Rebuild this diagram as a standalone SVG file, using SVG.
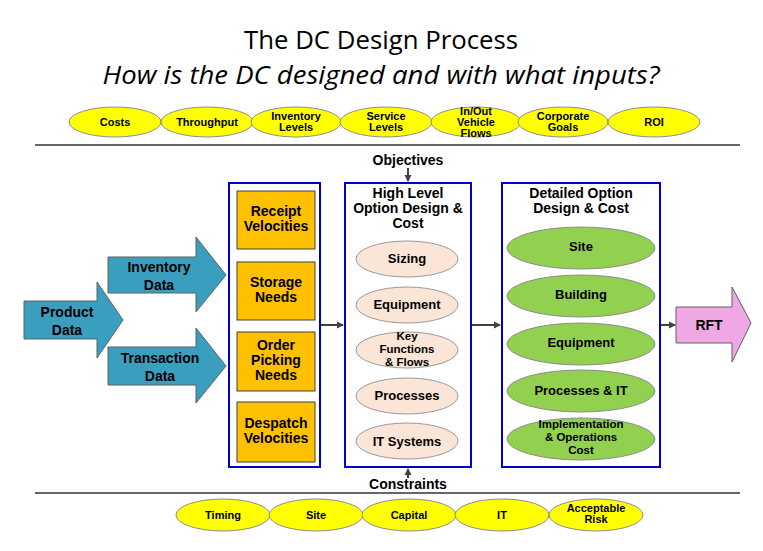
<svg xmlns="http://www.w3.org/2000/svg" width="763" height="551" viewBox="0 0 763 551">
<style>
text{font-family:"Liberation Sans",Arial,sans-serif;font-weight:bold;fill:#000;text-anchor:middle}
.title{font-family:"Open Sans","Liberation Sans",sans-serif;font-weight:normal;font-size:26px}
.yel{fill:#FFFF00;stroke:#8c8c8c;stroke-width:1}
.yt{font-size:11px}
.org{fill:#FFC000;stroke:#404040;stroke-width:1}
.ot{font-size:14px}
.peach{fill:#FBE5D6;stroke:#9a9a9a;stroke-width:1}
.grn{fill:#92D050;stroke:#8c8c8c;stroke-width:1}
.et{font-size:13px}
.et3{font-size:11.5px}
.frame{fill:none;stroke:#0000CC;stroke-width:2}
.teal{fill:#3A9FBE;stroke:#606060;stroke-width:1}
.pink{fill:#F0A8E4;stroke:#606060;stroke-width:1}
.line{stroke:#333;stroke-width:1.3}
.conn{stroke:#404040;stroke-width:2;fill:none;marker-end:url(#ah)}
.lbl{font-size:14px}
</style>
<defs>
<marker id="ah" markerWidth="8" markerHeight="8" refX="6" refY="4" orient="auto" markerUnits="userSpaceOnUse">
<path d="M0,0.5 L7,4 L0,7.5 Z" fill="#404040"/>
</marker>
</defs>
<rect width="763" height="551" fill="#fff"/>

<g id="title">
<text class="title" x="381" y="49" textLength="274" lengthAdjust="spacingAndGlyphs">The DC Design Process</text>
<text class="title" x="381" y="84" font-style="italic" textLength="557" lengthAdjust="spacingAndGlyphs">How is the DC designed and with what inputs?</text>
</g>

<g id="rules">
<line class="line" x1="35" y1="145" x2="740" y2="145"/>
<line class="line" x1="35" y1="493" x2="740" y2="493"/>
</g>

<g id="objectives-row">
<g id="obj-costs"><ellipse class="yel" cx="115" cy="122" rx="46" ry="15"/><text class="yt" x="115" y="126">Costs</text></g>
<g id="obj-throughput"><ellipse class="yel" cx="207" cy="122" rx="46" ry="15"/><text class="yt" x="207" y="126">Throughput</text></g>
<g id="obj-inventory"><ellipse class="yel" cx="296" cy="122" rx="45" ry="15"/><text class="yt" x="296" y="120">Inventory</text><text class="yt" x="296" y="131">Levels</text></g>
<g id="obj-service"><ellipse class="yel" cx="386" cy="122" rx="46" ry="15"/><text class="yt" x="386" y="120">Service</text><text class="yt" x="386" y="131">Levels</text></g>
<g id="obj-vehicle"><ellipse class="yel" cx="476" cy="122" rx="45" ry="15"/><text class="yt" x="476" y="115">In/Out</text><text class="yt" x="476" y="126">Vehicle</text><text class="yt" x="476" y="137">Flows</text></g>
<g id="obj-goals"><ellipse class="yel" cx="563" cy="122" rx="45" ry="15"/><text class="yt" x="563" y="120">Corporate</text><text class="yt" x="563" y="131">Goals</text></g>
<g id="obj-roi"><ellipse class="yel" cx="654" cy="122" rx="46" ry="15"/><text class="yt" x="654" y="126">ROI</text></g>
</g>

<g id="objectives-label"><text class="lbl" x="408" y="165">Objectives</text></g>
<g id="constraints-label"><text class="lbl" x="408" y="489">Constraints</text></g>

<g id="product-data">
<path class="teal" d="M24,301 H97 V282 L123,320 L97,358 V339 H24 Z"/>
<text class="ot" x="67" y="317">Product</text><text class="ot" x="67" y="335">Data</text>
</g>
<g id="inventory-data">
<path class="teal" d="M108,257 H196 V237 L226,275 L196,312 V293 H108 Z"/>
<text class="ot" x="159" y="272">Inventory</text><text class="ot" x="159" y="290">Data</text>
</g>
<g id="transaction-data">
<path class="teal" d="M108,347 H196 V328 L226,366 L196,403 V385 H108 Z"/>
<text class="ot" x="160" y="363">Transaction</text><text class="ot" x="160" y="381">Data</text>
</g>

<g id="needs-box">
<rect class="frame" x="229" y="183" width="91" height="284"/>
<g id="receipt"><rect class="org" x="237" y="191" width="78" height="58"/><text class="ot" x="276" y="216">Receipt</text><text class="ot" x="276" y="231">Velocities</text></g>
<g id="storage"><rect class="org" x="237" y="262" width="78" height="58"/><text class="ot" x="276" y="287">Storage</text><text class="ot" x="276" y="302">Needs</text></g>
<g id="picking"><rect class="org" x="237" y="332" width="78" height="59"/><text class="ot" x="276" y="350">Order</text><text class="ot" x="276" y="365">Picking</text><text class="ot" x="276" y="380">Needs</text></g>
<g id="despatch"><rect class="org" x="237" y="402" width="78" height="60"/><text class="ot" x="276" y="428">Despatch</text><text class="ot" x="276" y="443">Velocities</text></g>
</g>

<g id="high-level-box">
<rect class="frame" x="345" y="183" width="126" height="284"/>
<text class="lbl" x="408" y="198">High Level</text>
<text class="lbl" x="408" y="213">Option Design &amp;</text>
<text class="lbl" x="408" y="228">Cost</text>
<g id="sizing"><ellipse class="peach" cx="407" cy="259" rx="51" ry="18"/><text class="et" x="407" y="263">Sizing</text></g>
<g id="hl-equipment"><ellipse class="peach" cx="407" cy="305" rx="51" ry="18"/><text class="et" x="407" y="309">Equipment</text></g>
<g id="key-functions"><ellipse class="peach" cx="407" cy="350" rx="51" ry="18"/><text class="et3" x="407" y="340">Key</text><text class="et3" x="407" y="353">Functions</text><text class="et3" x="407" y="366">&amp; Flows</text></g>
<g id="processes"><ellipse class="peach" cx="407" cy="396" rx="51" ry="18"/><text class="et" x="407" y="400">Processes</text></g>
<g id="it-systems"><ellipse class="peach" cx="407" cy="441" rx="51" ry="18"/><text class="et" x="407" y="446">IT Systems</text></g>
</g>

<g id="detailed-box">
<rect class="frame" x="502" y="183" width="158" height="284"/>
<text class="lbl" x="581" y="198">Detailed Option</text>
<text class="lbl" x="581" y="213">Design &amp; Cost</text>
<g id="site"><ellipse class="grn" cx="581" cy="248" rx="74" ry="21"/><text class="et" x="581" y="251">Site</text></g>
<g id="building"><ellipse class="grn" cx="581" cy="296" rx="74" ry="21"/><text class="et" x="581" y="299">Building</text></g>
<g id="dt-equipment"><ellipse class="grn" cx="581" cy="344" rx="74" ry="21"/><text class="et" x="581" y="347">Equipment</text></g>
<g id="processes-it"><ellipse class="grn" cx="581" cy="391" rx="74" ry="21"/><text class="et" x="581" y="395">Processes &amp; IT</text></g>
<g id="implementation"><ellipse class="grn" cx="581" cy="439" rx="74" ry="21"/><text class="et3" x="581" y="428">Implementation</text><text class="et3" x="581" y="441">&amp; Operations</text><text class="et3" x="581" y="454">Cost</text></g>
</g>

<g id="rft">
<path class="pink" d="M676,307 H732 V287 L751,323 L732,362 V343 H676 Z"/>
<text class="ot" x="709" y="330">RFT</text>
</g>

<g id="constraints-row">
<g id="con-timing"><ellipse class="yel" cx="223" cy="515" rx="47" ry="16"/><text class="yt" x="223" y="519">Timing</text></g>
<g id="con-site"><ellipse class="yel" cx="316" cy="515" rx="47" ry="16"/><text class="yt" x="316" y="519">Site</text></g>
<g id="con-capital"><ellipse class="yel" cx="409" cy="515" rx="47" ry="16"/><text class="yt" x="409" y="519">Capital</text></g>
<g id="con-it"><ellipse class="yel" cx="502" cy="515" rx="47" ry="16"/><text class="yt" x="502" y="519">IT</text></g>
<g id="con-risk"><ellipse class="yel" cx="596" cy="515" rx="47" ry="16"/><text class="yt" x="596" y="512">Acceptable</text><text class="yt" x="596" y="523">Risk</text></g>
</g>

<g id="connectors">
<line class="conn" x1="408" y1="168" x2="408" y2="181"/>
<line class="conn" x1="408" y1="478" x2="408" y2="469"/>
<line class="conn" x1="321" y1="325" x2="343" y2="325"/>
<line class="conn" x1="472" y1="325" x2="500" y2="325"/>
<line class="conn" x1="661" y1="325" x2="675" y2="325"/>
</g>
</svg>
